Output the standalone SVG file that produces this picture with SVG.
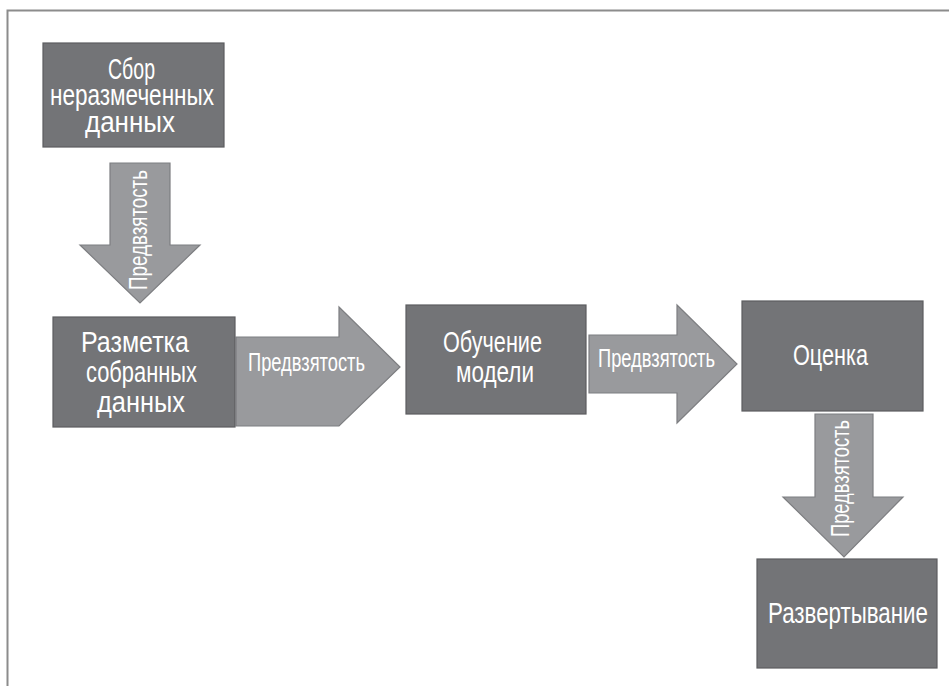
<svg xmlns="http://www.w3.org/2000/svg" width="949" height="686" viewBox="0 0 949 686">
  <style>
    .box { fill: #737477; stroke: #5c5d60; stroke-width: 1.2; }
    .arrow { fill: #999a9d; stroke: #7d7e81; stroke-width: 1.2; }
    .label { fill: #ffffff; font-family: "Liberation Sans", "DejaVu Sans", sans-serif; font-size: 29px; }
    .bias { fill: #ffffff; font-family: "Liberation Sans", "DejaVu Sans", sans-serif; font-size: 25px; }
    .frame { fill: none; stroke: #8c8c8c; stroke-width: 2; }
  </style>

  <rect x="0" y="0" width="949" height="686" fill="#ffffff"/>
  <!-- page frame: top and left rules -->
  <path class="frame" d="M 7.5 686 V 10.5 H 949"/>

  <!-- connectors: block arrows labelled with the bias introduced at each step -->
  <g id="connectors">
    <g id="bias-collect-to-label">
      <polygon class="arrow" points="110,163 170,163 170,245 200,245 140,303 80,245 110,245"/>
      <text class="bias" transform="translate(147,290) rotate(-90)" textLength="120" lengthAdjust="spacingAndGlyphs">Предвзятость</text>
    </g>
    <g id="bias-label-to-train">
      <polygon class="arrow" points="236,337 339,337 339,307 400,367 339,426 236,426 236,397"/>
      <text class="bias" x="248" y="371" textLength="117" lengthAdjust="spacingAndGlyphs">Предвзятость</text>
    </g>
    <g id="bias-train-to-eval">
      <polygon class="arrow" points="589,335 677,335 677,305 737,364 677,423 677,393 589,393"/>
      <text class="bias" x="598" y="367" textLength="117" lengthAdjust="spacingAndGlyphs">Предвзятость</text>
    </g>
    <g id="bias-eval-to-deploy">
      <polygon class="arrow" points="815,414 873,414 873,497 903,497 844,557 783,497 815,497"/>
      <text class="bias" transform="translate(849,537) rotate(-90)" textLength="117" lengthAdjust="spacingAndGlyphs">Предвзятость</text>
    </g>
  </g>

  <!-- process steps -->
  <g id="collect">
    <rect class="box" x="43" y="43" width="181" height="104"/>
    <text class="label" x="108" y="79" textLength="47" lengthAdjust="spacingAndGlyphs">Сбор</text>
    <text class="label" x="50" y="105" textLength="164" lengthAdjust="spacingAndGlyphs">неразмеченных</text>
    <text class="label" x="85" y="132" textLength="90" lengthAdjust="spacingAndGlyphs">данных</text>
  </g>

  <g id="label-data">
    <rect class="box" x="53" y="317" width="182" height="110"/>
    <text class="label" x="81" y="352" textLength="108" lengthAdjust="spacingAndGlyphs">Разметка</text>
    <text class="label" x="86" y="382" textLength="111" lengthAdjust="spacingAndGlyphs">собранных</text>
    <text class="label" x="97" y="412" textLength="88" lengthAdjust="spacingAndGlyphs">данных</text>
  </g>

  <g id="train">
    <rect class="box" x="406" y="305" width="180" height="109"/>
    <text class="label" x="443" y="352" textLength="99" lengthAdjust="spacingAndGlyphs">Обучение</text>
    <text class="label" x="456" y="382" textLength="78" lengthAdjust="spacingAndGlyphs">модели</text>
  </g>

  <g id="evaluate">
    <rect class="box" x="742" y="301" width="181" height="110"/>
    <text class="label" x="793" y="365" textLength="75" lengthAdjust="spacingAndGlyphs">Оценка</text>
  </g>

  <g id="deploy">
    <rect class="box" x="757" y="559" width="180" height="109"/>
    <text class="label" x="768" y="623" textLength="160" lengthAdjust="spacingAndGlyphs">Развертывание</text>
  </g>
</svg>
